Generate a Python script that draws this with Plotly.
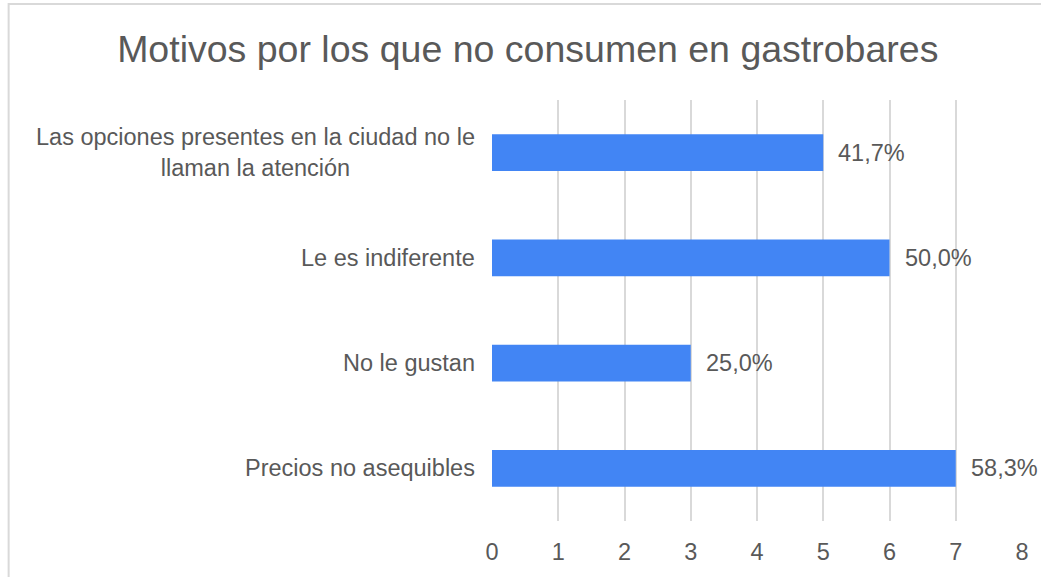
import plotly.graph_objects as go

# Survey: reasons for not visiting gastrobars (counts out of all respondents)
categories = [
    "Las opciones presentes en la ciudad no le<br>llaman la atención",
    "Le es indiferente",
    "No le gustan",
    "Precios no asequibles",
]
counts = [5, 6, 3, 7]
total_respondents = 12
x_ticks = [0, 1, 2, 3, 4, 5, 6, 7, 8]

title_text = "Motivos por los que no consumen en gastrobares"

BAR_COLOR = "#4285F4"
GRID_COLOR = "#D9D9D9"
TEXT_COLOR = "#595959"
FONT = "Liberation Sans, Arial, sans-serif"
LABEL_SIZE = 23.5

pct_labels = [
    f"{100 * c / total_respondents:.1f}".replace(".", ",") + "%" for c in counts
]

fig = go.Figure()
fig.add_trace(
    go.Bar(
        x=counts,
        y=categories,
        orientation="h",
        marker=dict(color=BAR_COLOR, line=dict(width=0)),
        width=0.35,
        hoverinfo="skip",
    )
)

# value labels to the right of each bar
for c, cat, lab in zip(counts, categories, pct_labels):
    fig.add_annotation(
        x=c, y=cat, xref="x", yref="y",
        text=lab, showarrow=False,
        xanchor="left", xshift=13,
        font=dict(family=FONT, size=LABEL_SIZE, color=TEXT_COLOR),
    )

# category labels, centred line by line
for cat in categories:
    fig.add_annotation(
        x=0, y=cat, xref="paper", yref="y",
        text=cat, showarrow=False,
        xanchor="right", xshift=-15, align="center",
        font=dict(family=FONT, size=LABEL_SIZE, color=TEXT_COLOR),
    )

# light frame around the chart
fig.add_shape(
    type="rect", xref="paper", yref="paper",
    x0=-0.912, y0=-0.3, x1=1.2, y1=1.228,
    line=dict(color=GRID_COLOR, width=2),
    fillcolor="rgba(0,0,0,0)", layer="below",
)

fig.update_layout(
    width=1041,
    height=577,
    margin=dict(l=492, r=15, t=100, b=55),
    paper_bgcolor="white",
    plot_bgcolor="white",
    showlegend=False,
    title=dict(
        text=title_text,
        x=0.507, xref="container", xanchor="center",
        y=0.915, yanchor="middle",
        font=dict(family=FONT, size=37.5, color=TEXT_COLOR),
    ),
    font=dict(family=FONT, color=TEXT_COLOR),
)

fig.update_xaxes(
    range=[0, 8],
    tickvals=x_ticks,
    showgrid=True,
    gridcolor=GRID_COLOR,
    gridwidth=2,
    zeroline=False,
    showline=False,
    ticks="",
    ticklabelstandoff=14,
    tickfont=dict(family=FONT, size=LABEL_SIZE, color=TEXT_COLOR),
)
fig.update_yaxes(
    categoryorder="array",
    categoryarray=categories,
    autorange="reversed",
    showticklabels=False,
    showgrid=False,
    zeroline=False,
    showline=False,
    ticks="",
)

fig.write_html("out.html")
